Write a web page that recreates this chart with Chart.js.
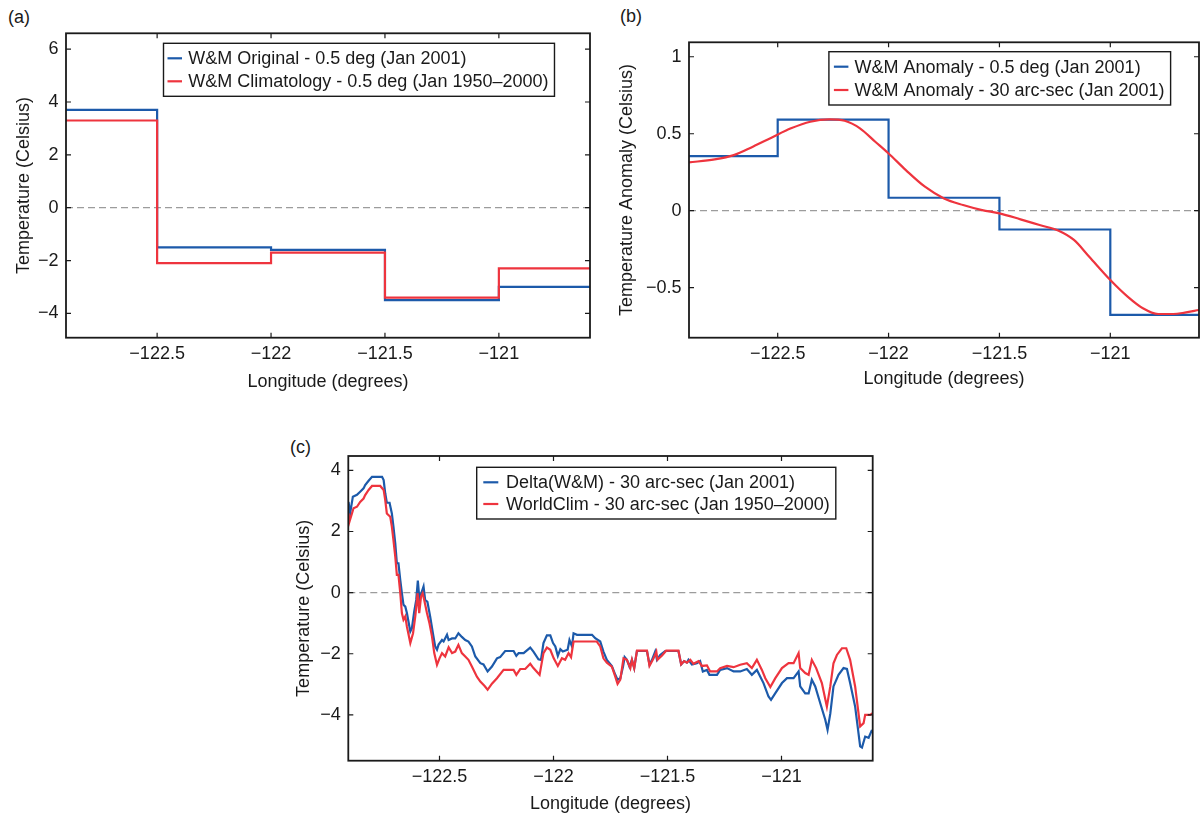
<!DOCTYPE html>
<html>
<head>
<meta charset="utf-8">
<script src="https://cdn.jsdelivr.net/npm/chart.js@4.4.1/dist/chart.umd.min.js"></script>
<style>
  html, body { margin: 0; padding: 0; background: #fff; }
  body { width: 1200px; height: 816px; position: relative; overflow: hidden; font-family: "Liberation Sans", Arial, sans-serif; }
  canvas { position: absolute; }
  .tag { position: absolute; font-size: 18px; line-height: 21px; color: #1a1a1a; }
</style>
</head>
<body>
<div class="tag" style="left:8px;top:7px">(a)</div>
<div class="tag" style="left:620px;top:6px">(b)</div>
<div class="tag" style="left:290px;top:437px">(c)</div>
<canvas id="panelA" width="600" height="400" style="left:0;top:0;width:600px;height:400px"></canvas>
<canvas id="panelB" width="600" height="400" style="left:600px;top:0;width:600px;height:400px"></canvas>
<canvas id="panelC" width="650" height="396" style="left:250px;top:420px;width:650px;height:396px"></canvas>
<script>
// ---- data ----
// edges of the 0.5 deg cells along the transect (longitude)
const cellEdges = [-122.9, -122.5, -122, -121.5, -121, -120.6];

// (a) 0.5 deg temperature, one value per cell (last value repeats to close the step)
const wmOriginal = [3.7, -1.5, -1.6, -3.5, -3.0, -3.0];
const wmClimatology = [3.3, -2.1, -1.7, -3.4, -2.3, -2.3];

// (b) anomaly: 0.5 deg cells and the 30 arc-sec interpolated curve
const wmAnomalyCoarse = [0.355, 0.592, 0.084, -0.122, -0.677, -0.677];
const fineLonB = [-122.9, -122.784, -122.698, -122.612, -122.526, -122.44, -122.353, -122.267, -122.198, -122.129,
  -122.06, -122.0, -121.922, -121.836, -121.75, -121.664, -121.578, -121.5, -121.405, -121.319,
  -121.233, -121.164, -121.095, -121.0, -120.922, -120.853, -120.784, -120.716, -120.664, -120.6];
const wmAnomalyFine = [0.314, 0.333, 0.361, 0.416, 0.476, 0.535, 0.578, 0.593, 0.584, 0.535,
  0.448, 0.372, 0.264, 0.156, 0.08, 0.037, 0.004, -0.017, -0.056, -0.093,
  -0.13, -0.19, -0.299, -0.45, -0.558, -0.634, -0.671, -0.671, -0.662, -0.645];

// (c) 30 arc-sec profiles
const deltaLon = [-122.899, -122.892, -122.880, -122.862, -122.848, -122.833, -122.826, -122.811, -122.796, -122.752,
  -122.745, -122.738, -122.731, -122.719, -122.709, -122.702, -122.694, -122.687, -122.680, -122.672,
  -122.665, -122.658, -122.650, -122.643, -122.628, -122.621, -122.611, -122.602, -122.595, -122.588,
  -122.580, -122.570, -122.563, -122.553, -122.541, -122.529, -122.519, -122.511, -122.504, -122.489,
  -122.482, -122.467, -122.460, -122.445, -122.431, -122.417, -122.402, -122.387, -122.373, -122.358,
  -122.343, -122.321, -122.307, -122.289, -122.270, -122.248, -122.234, -122.212, -122.175, -122.163,
  -122.153, -122.131, -122.102, -122.088, -122.066, -122.055, -122.044, -122.029, -122.014, -122.002,
  -121.992, -121.981, -121.970, -121.959, -121.938, -121.930, -121.919, -121.912, -121.897, -121.831,
  -121.817, -121.795, -121.781, -121.766, -121.744, -121.729, -121.719, -121.707, -121.695, -121.688,
  -121.678, -121.667, -121.656, -121.646, -121.634, -121.590, -121.579, -121.568, -121.554, -121.546,
  -121.532, -121.510, -121.452, -121.440, -121.427, -121.415, -121.408, -121.393, -121.371, -121.357,
  -121.345, -121.327, -121.316, -121.283, -121.269, -121.239, -121.210, -121.181, -121.152, -121.130,
  -121.108, -121.079, -121.057, -121.046, -121.027, -120.998, -120.976, -120.947, -120.925, -120.918,
  -120.896, -120.881, -120.867, -120.852, -120.830, -120.808, -120.798, -120.786, -120.772, -120.750,
  -120.728, -120.713, -120.699, -120.677, -120.655, -120.647, -120.633, -120.618, -120.603];
const deltaTemp = [2.97, 2.59, 3.14, 3.2, 3.3, 3.41, 3.52, 3.66, 3.79, 3.79,
  3.68, 3.25, 2.94, 2.94, 2.59, 2.16, 1.61, 0.96, 0.96, 0.41,
  -0.02, -0.4, -0.46, -0.67, -1.27, -1.16, -0.62, -0.24, 0.39, -0.24,
  -0.02, 0.2, -0.24, -0.3, -0.78, -1.33, -1.76, -1.87, -1.7, -1.55,
  -1.6, -1.38, -1.55, -1.5, -1.5, -1.33, -1.45, -1.55, -1.6, -1.76,
  -2.09, -2.31, -2.35, -2.58, -2.42, -2.15, -2.11, -1.91, -1.91, -2.07,
  -1.98, -1.98, -1.8, -1.93, -2.18, -2.2, -1.65, -1.4, -1.4, -1.65,
  -1.76, -2.07, -1.85, -1.93, -1.87, -1.55, -1.76, -1.33, -1.38, -1.38,
  -1.49, -1.6, -1.93, -2.2, -2.4, -2.69, -2.85, -2.8, -2.42, -2.11,
  -2.2, -2.42, -2.2, -2.47, -1.91, -1.91, -2.35, -2.2, -1.93, -2.2,
  -2.04, -1.91, -1.91, -2.35, -2.24, -2.29, -2.2, -2.35, -2.31, -2.24,
  -2.58, -2.53, -2.69, -2.69, -2.53, -2.47, -2.58, -2.58, -2.5, -2.69,
  -2.53, -2.96, -3.4, -3.51, -3.29, -2.96, -2.8, -2.8, -2.58, -3.07,
  -3.3, -3.3, -2.85, -3.07, -3.62, -4.16, -4.49, -3.96, -3.07, -2.69,
  -2.47, -2.5, -2.96, -3.73, -5.03, -5.07, -4.71, -4.75, -4.49];
const worldclimLon = [-122.899, -122.895, -122.884, -122.877, -122.862, -122.848, -122.833, -122.826, -122.811, -122.796,
  -122.760, -122.745, -122.738, -122.731, -122.716, -122.709, -122.702, -122.694, -122.687, -122.680,
  -122.672, -122.665, -122.658, -122.650, -122.643, -122.628, -122.616, -122.606, -122.596, -122.589,
  -122.581, -122.574, -122.567, -122.555, -122.544, -122.533, -122.523, -122.511, -122.500, -122.489,
  -122.475, -122.460, -122.445, -122.431, -122.417, -122.402, -122.387, -122.373, -122.358, -122.336,
  -122.321, -122.303, -122.289, -122.270, -122.248, -122.219, -122.175, -122.163, -122.146, -122.124,
  -122.102, -122.088, -122.061, -122.044, -122.029, -122.014, -121.999, -121.981, -121.963, -121.949,
  -121.934, -121.923, -121.912, -121.810, -121.795, -121.781, -121.766, -121.744, -121.729, -121.719,
  -121.707, -121.693, -121.678, -121.663, -121.656, -121.646, -121.634, -121.590, -121.579, -121.561,
  -121.549, -121.544, -121.524, -121.506, -121.452, -121.440, -121.427, -121.415, -121.400, -121.386,
  -121.364, -121.349, -121.327, -121.313, -121.283, -121.269, -121.239, -121.210, -121.181, -121.152,
  -121.130, -121.108, -121.086, -121.071, -121.049, -121.027, -120.998, -120.969, -120.947, -120.925,
  -120.918, -120.896, -120.881, -120.867, -120.848, -120.823, -120.801, -120.786, -120.772, -120.757,
  -120.735, -120.716, -120.699, -120.677, -120.655, -120.640, -120.633, -120.611, -120.600];
const worldclimTemp = [2.59, 2.32, 2.59, 2.76, 2.81, 2.97, 3.08, 3.19, 3.36, 3.49,
  3.49, 3.36, 3.03, 2.59, 2.48, 2.16, 1.72, 1.18, 0.58, 0.58,
  -0.02, -0.67, -0.89, -0.78, -1.11, -1.65, -1.33, -0.76, -0.02, -0.67,
  -0.13, -0.02, -0.24, -0.67, -1.0, -1.43, -1.98, -2.36, -2.15, -1.98,
  -2.09, -1.79, -1.98, -1.93, -1.71, -1.98, -2.09, -2.2, -2.42, -2.75,
  -2.91, -3.05, -3.18, -2.98, -2.8, -2.53, -2.53, -2.69, -2.5, -2.5,
  -2.33, -2.47, -2.69, -1.98, -1.8, -1.87, -2.15, -2.4, -2.15, -2.2,
  -1.98, -2.11, -1.6, -1.6, -1.76, -2.15, -2.29, -2.42, -2.75, -2.99,
  -2.85, -2.15, -2.2, -2.47, -2.2, -2.47, -1.9, -1.9, -2.4, -2.15,
  -1.93, -2.2, -2.06, -1.9, -1.9, -2.35, -2.24, -2.29, -2.2, -2.33,
  -2.24, -2.4, -2.38, -2.58, -2.58, -2.47, -2.4, -2.44, -2.36, -2.31,
  -2.47, -2.2, -2.53, -2.8, -3.09, -2.8, -2.47, -2.31, -2.31, -1.98,
  -2.47, -2.63, -2.69, -2.2, -2.47, -2.96, -3.73, -3.07, -2.31, -2.04,
  -1.82, -1.82, -2.2, -3.07, -4.38, -4.27, -4.0, -4.0, -3.94];

// tick values
const lonTicks = [-122.5, -122, -121.5, -121];
const tempTicksA = [-4, -2, 0, 2, 4, 6];
const anomTicksB = [-0.5, 0, 0.5, 1];
const tempTicksC = [-4, -2, 0, 2, 4];

// ---- style ----
const BLUE = 'rgb(28, 90, 170)';
const RED = 'rgb(238, 52, 62)';
const INK = '#1a1a1a';
const FONT = { family: '"Liberation Sans", Arial, sans-serif', size: 18 };

function pts(xs, ys) { return xs.map((x, i) => ({ x: x, y: ys[i] })); }
function minus(v) { return String(v).replace('-', '\u2212'); }
function fixTicks(list) { return scale => { scale.ticks = list.map(v => ({ value: v })); }; }

// MATLAB-like box: dashed zero line, inward ticks on all sides, framed legend inside the axes
const matlabBox = {
  id: 'box',
  beforeDatasetsDraw(chart) {
    const { ctx, chartArea: a, scales: { y } } = chart;
    const y0 = y.getPixelForValue(0);
    ctx.save();
    ctx.strokeStyle = '#9c9c9c';
    ctx.lineWidth = 1.3;
    ctx.setLineDash([7, 4]);
    ctx.beginPath();
    ctx.moveTo(a.left, y0);
    ctx.lineTo(a.right, y0);
    ctx.stroke();
    ctx.restore();
  },
  afterDraw(chart, args, opts) {
    const { ctx, chartArea: a, scales: { x, y } } = chart;
    ctx.save();
    ctx.strokeStyle = INK;
    ctx.lineWidth = 1.2;
    ctx.beginPath();
    x.ticks.forEach(t => {
      const px = x.getPixelForValue(t.value);
      ctx.moveTo(px, a.bottom); ctx.lineTo(px, a.bottom - 5);
      ctx.moveTo(px, a.top); ctx.lineTo(px, a.top + 5);
    });
    y.ticks.forEach(t => {
      const py = y.getPixelForValue(t.value);
      ctx.moveTo(a.left, py); ctx.lineTo(a.left + 5, py);
      ctx.moveTo(a.right, py); ctx.lineTo(a.right - 5, py);
    });
    ctx.stroke();
    ctx.lineWidth = 1.8;
    ctx.strokeRect(a.left, a.top, a.right - a.left, a.bottom - a.top);

    // legend
    const lg = opts.legend;
    const sets = chart.data.datasets;
    ctx.font = FONT.size + 'px ' + FONT.family;
    const textW = Math.max(...sets.map(d => ctx.measureText(d.label).width));
    const w = lg.textAt + textW + 6;
    ctx.fillStyle = '#fff';
    ctx.fillRect(lg.left, lg.top, w, lg.height);
    ctx.lineWidth = 1.4;
    ctx.strokeStyle = INK;
    ctx.strokeRect(lg.left, lg.top, w, lg.height);
    ctx.textBaseline = 'middle';
    sets.forEach((d, i) => {
      const ry = lg.top + lg.height / 2 + (i - 0.5) * lg.gap;
      ctx.strokeStyle = d.borderColor;
      ctx.lineWidth = 2.2;
      ctx.beginPath();
      ctx.moveTo(lg.left + lg.lineFrom, ry);
      ctx.lineTo(lg.left + lg.lineTo, ry);
      ctx.stroke();
      ctx.fillStyle = INK;
      ctx.fillText(d.label, lg.left + lg.textAt, ry + 1);
    });
    ctx.restore();
  }
};

function panelOptions(p) {
  return {
    responsive: false,
    animation: false,
    layout: { padding: { left: 0, top: p.top, right: p.right, bottom: 0 } },
    plugins: {
      legend: { display: false },
      tooltip: { enabled: false },
      box: { legend: p.legend }
    },
    scales: {
      x: {
        type: 'linear', min: -122.9, max: -120.6,
        afterBuildTicks: fixTicks(lonTicks),
        afterFit: s => { s.height = p.xHeight; },
        grid: { display: false, drawTicks: false }, border: { display: false },
        ticks: { font: FONT, color: INK, padding: 5.5, maxRotation: 0, autoSkip: false, callback: v => minus(v) },
        title: { display: true, text: 'Longitude (degrees)', font: FONT, color: INK, padding: { top: 0, bottom: p.xTitlePad } }
      },
      y: {
        type: 'linear', min: p.yMin, max: p.yMax,
        afterBuildTicks: fixTicks(p.yTicks),
        afterFit: s => { s.width = p.yWidth; },
        grid: { display: false, drawTicks: false }, border: { display: false },
        ticks: { font: FONT, color: INK, padding: 7.5, autoSkip: false, callback: v => minus(v) },
        title: { display: true, text: p.yTitle, font: FONT, color: INK, padding: { top: p.yTitlePad, bottom: 0 } }
      }
    }
  };
}

const lineBase = { pointRadius: 0, borderWidth: 2.2, fill: false };

// (a) W&M original vs climatology, 0.5 deg
new Chart(document.getElementById('panelA'), {
  type: 'line',
  data: {
    datasets: [
      Object.assign({ label: 'W&M Original - 0.5 deg (Jan 2001)', data: pts(cellEdges, wmOriginal), borderColor: BLUE, stepped: true, order: 1 }, lineBase),
      Object.assign({ label: 'W&M Climatology - 0.5 deg (Jan 1950\u20132000)', data: pts(cellEdges, wmClimatology), borderColor: RED, stepped: true, order: 0 }, lineBase)
    ]
  },
  options: panelOptions({
    top: 33.3, right: 10, xHeight: 62.3, yWidth: 66,
    yMin: -4.92, yMax: 6.6, yTicks: tempTicksA,
    yTitle: 'Temperature (Celsius)', yTitlePad: 13.2, xTitlePad: 7.5,
    legend: { left: 163.5, top: 43.3, height: 53, gap: 23, lineFrom: 4, lineTo: 18.5, textAt: 24.8 }
  }),
  plugins: [matlabBox]
});

// (b) anomalies
new Chart(document.getElementById('panelB'), {
  type: 'line',
  data: {
    datasets: [
      Object.assign({ label: 'W&M Anomaly - 0.5 deg (Jan 2001)', data: pts(cellEdges, wmAnomalyCoarse), borderColor: BLUE, stepped: true, order: 1 }, lineBase),
      Object.assign({ label: 'W&M Anomaly - 30 arc-sec (Jan 2001)', data: pts(fineLonB, wmAnomalyFine), borderColor: RED, cubicInterpolationMode: 'monotone', order: 0 }, lineBase)
    ]
  },
  options: panelOptions({
    top: 42.3, right: 1, xHeight: 62.3, yWidth: 89,
    yMin: -0.825, yMax: 1.094, yTicks: anomTicksB,
    yTitle: 'Temperature Anomaly (Celsius)', yTitlePad: 16.7, xTitlePad: 9.9,
    legend: { left: 228.9, top: 51.7, height: 53.3, gap: 23.3, lineFrom: 5, lineTo: 19.5, textAt: 25.6 }
  }),
  plugins: [matlabBox]
});

// (c) 30 arc-sec delta vs WorldClim
new Chart(document.getElementById('panelC'), {
  type: 'line',
  data: {
    datasets: [
      Object.assign({ label: 'Delta(W&M) - 30 arc-sec (Jan 2001)', data: pts(deltaLon, deltaTemp), borderColor: BLUE, order: 1 }, lineBase),
      Object.assign({ label: 'WorldClim - 30 arc-sec (Jan 1950\u20132000)', data: pts(worldclimLon, worldclimTemp), borderColor: RED, order: 0 }, lineBase)
    ]
  },
  options: panelOptions({
    top: 36, right: 27.3, xHeight: 55.3, yWidth: 98.3,
    yMin: -5.5, yMax: 4.47, yTicks: tempTicksC,
    yTitle: 'Temperature (Celsius)', yTitlePad: 43.2, xTitlePad: 0.7,
    legend: { left: 226.7, top: 47.3, height: 51.7, gap: 21.7, lineFrom: 6.6, lineTo: 21.6, textAt: 29.3 }
  }),
  plugins: [matlabBox]
});
</script>
</body>
</html>
